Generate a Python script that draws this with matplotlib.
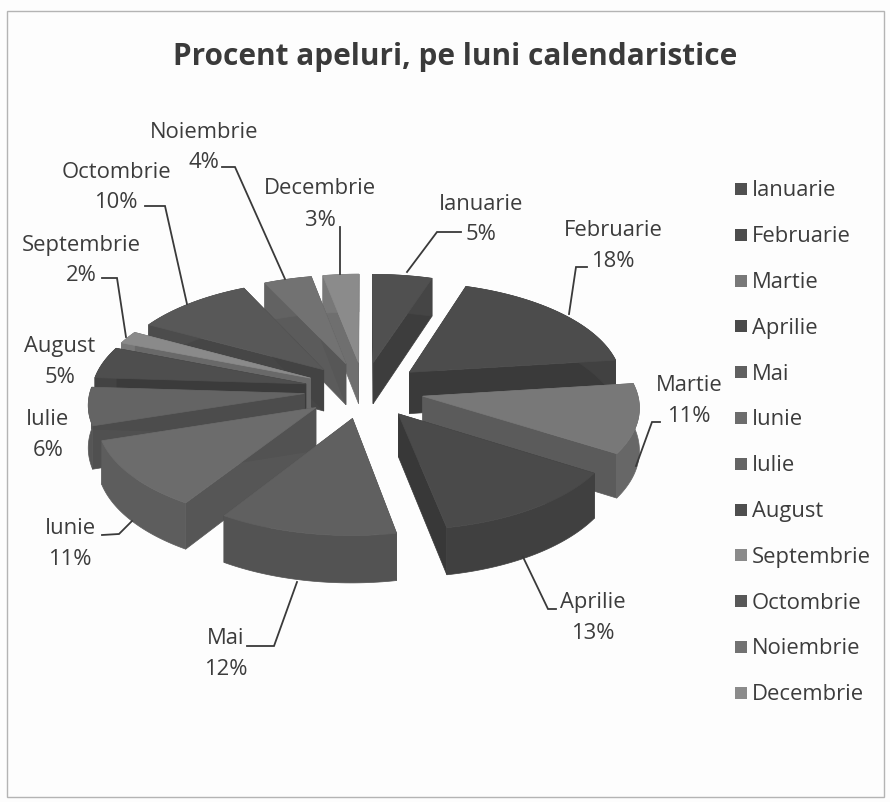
#!/usr/bin/env python3
"""Pie 3D cu felii separate: procent apeluri, pe luni calendaristice"""
import numpy as np
import matplotlib
matplotlib.use('Agg')
import matplotlib.pyplot as plt
from matplotlib.patches import Polygon, Rectangle

luni = ['Ianuarie', 'Februarie', 'Martie', 'Aprilie', 'Mai', 'Iunie', 'Iulie',
        'August', 'Septembrie', 'Octombrie', 'Noiembrie', 'Decembrie']
procente = [5, 18, 11, 13, 12, 11, 6, 5, 2, 10, 4, 3]
gri_sus = ['#505050', '#4c4c4c', '#787878', '#4a4a4a', '#606060', '#6c6c6c',
           '#646464', '#4e4e4e', '#8a8a8a', '#585858', '#727272', '#8b8b8b']

TEXT_COLOR = '#3c3c3c'
LINE_COLOR = '#3a3a3a'

# geometria pie-ului, in pixeli
CX, CY = 364, 391
RX, RY = 214, 101
DEPTH = 42
EXPLODE = 0.28
PERSP = 0.09

# pozitiile etichetelor (centru) si liniile de legatura
label_pos = [(481, 204), (613, 231), (689, 386), (593, 603), (226, 639), (70, 529),
             (48, 420), (60, 347), (81, 245), (116, 172), (204, 132), (320, 189)]
leaders = {
    'Ianuarie': [(461, 233), (437, 233), (407, 273)],
    'Februarie': [(587, 268), (576, 268), (569, 315)],
    'Martie': [(660, 423), (652, 423), (636, 467)],
    'Aprilie': [(556, 610), (548, 610), (523, 558)],
    'Mai': [(247, 647), (274, 647), (297, 583)],
    'Iunie': [(102, 536), (119, 535), (132, 522)],
    'Septembrie': [(102, 279), (117, 279), (126, 338)],
    'Octombrie': [(145, 207), (165, 207), (187, 305)],
    'Noiembrie': [(222, 168), (235, 168), (285, 280)],
    'Decembrie': [(340, 228), (340, 275)],
}


def project(x, y, z=0.0):
    """Sol (x, y, raza 1) -> pixeli, cu o perspectiva simpla"""
    f = 1 / (1 + PERSP * y)
    return np.column_stack([CX + RX * x * f, CY - RY * y * f + z * DEPTH * f])


def darker(color, k):
    rgb = np.array(matplotlib.colors.to_rgb(color)) * k
    return tuple(rgb)


def add_face(ax, pts, color, z):
    ax.add_patch(Polygon(pts, closed=True, facecolor=color, edgecolor=color, linewidth=0.5, zorder=z))


fig = plt.figure(figsize=(8.9, 8.03), dpi=100, facecolor='#fdfdfd')
ax = fig.add_axes([0, 0, 1, 1])
ax.set_xlim(0, 890)
ax.set_ylim(803, 0)
ax.axis('off')
plt.rcParams['font.family'] = ['Open Sans', 'DejaVu Sans']

# chenarul graficului
ax.add_patch(Rectangle((7, 12), 877, 786, fill=False, edgecolor='#b4b4b4', linewidth=1.0))

ax.text(455, 57, 'Procent apeluri, pe luni calendaristice', fontsize=21.4, fontweight='bold',
        color='#3a3a3a', ha='center', va='center')

# unghiurile feliilor, in sensul acelor de ceas de la ora 12
limite = np.radians(np.cumsum([0] + procente) * 3.6)
felii = []
for i in range(len(luni)):
    a0, a1 = limite[i], limite[i + 1]
    felii.append((np.cos((a0 + a1) / 2), i, a0, a1))
felii.sort(key=lambda t: -t[0])

# de la spate spre fata
z = 3
for _, i, a0, a1 in felii:
    mid = (a0 + a1) / 2
    ox, oy = EXPLODE * np.sin(mid), EXPLODE * np.cos(mid)
    t = np.linspace(a0, a1, 40)
    ax_x = ox + np.sin(t)
    ax_y = oy + np.cos(t)
    top_arc = project(ax_x, ax_y, 0)
    bot_arc = project(ax_x, ax_y, 1)
    apex_top = project(np.array([ox]), np.array([oy]), 0)
    apex_bot = project(np.array([ox]), np.array([oy]), 1)
    col = gri_sus[i]
    # fetele taiate
    add_face(ax, np.vstack([apex_top, top_arc[:1], bot_arc[:1], apex_bot]), darker(col, 0.8), z)
    add_face(ax, np.vstack([apex_top, top_arc[-1:], bot_arc[-1:], apex_bot]), darker(col, 0.76), z + 0.1)
    # peretele exterior
    add_face(ax, np.vstack([top_arc, bot_arc[::-1]]), darker(col, 0.86), z + 0.2)
    # fata de sus
    add_face(ax, np.vstack([apex_top, top_arc]), col, z + 0.3)
    z += 1

# etichete
for nume, p, (lx, ly) in zip(luni, procente, label_pos):
    ax.text(lx, ly, nume, fontsize=15.8, color=TEXT_COLOR, ha='center', va='center', zorder=40)
    ax.text(lx, ly + 31, f'{p}%', fontsize=15.8, color=TEXT_COLOR, ha='center', va='center', zorder=40)

for nume, pts in leaders.items():
    xs, ys = zip(*pts)
    ax.plot(xs, ys, color=LINE_COLOR, linewidth=1.3, zorder=30, solid_joinstyle='miter')

# legenda
for i, nume in enumerate(luni):
    y = 190 + i * 45.8
    ax.add_patch(Rectangle((735, y - 6), 12, 12, facecolor=gri_sus[i], edgecolor='none', zorder=40))
    ax.text(752, y + 1, nume, fontsize=15.8, color=TEXT_COLOR, ha='left', va='center', zorder=40)

fig.savefig('out.png', dpi=100, facecolor=fig.get_facecolor())
